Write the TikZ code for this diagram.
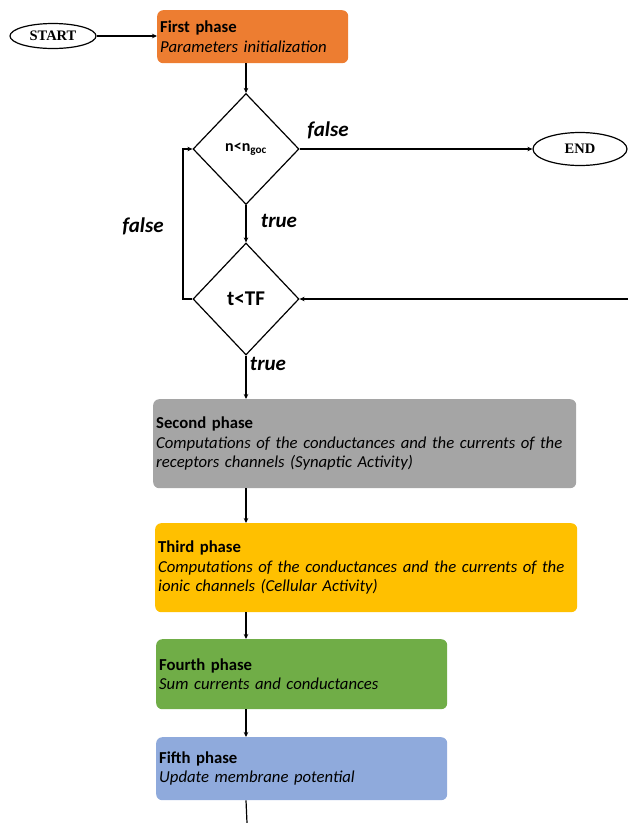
\documentclass[tikz,border=0pt]{standalone}
\usepackage{fontspec}
\setmainfont{Carlito}
\newfontfamily\serifbold{Liberation Serif}
\usetikzlibrary{shapes.geometric,arrows.meta}

\definecolor{phaseorange}{HTML}{ED7D31}
\definecolor{phasegray}{HTML}{A5A5A5}
\definecolor{phasegold}{HTML}{FFC000}
\definecolor{phasegreen}{HTML}{70AD47}
\definecolor{phaseblue}{HTML}{8FAADC}

\tikzset{
  arr/.style={line width=1.2pt,-{Stealth[length=5pt,width=4.5pt]}},
  plain/.style={line width=1.2pt},
  terminal/.style={ellipse,draw,line width=1.2pt,inner sep=0pt,font=\serifbold\bfseries\fontsize{14.5}{16}\selectfont},
  decision/.style={diamond,draw,line width=1.2pt,inner sep=0pt,font=\bfseries},
  phasebox/.style={rectangle,rounded corners=6pt,inner xsep=3pt,inner ysep=0pt,
    anchor=north west,align=left,font=\fontsize{16.7}{19.5}\selectfont},
  lbl/.style={font=\bfseries\itshape\fontsize{21}{24}\selectfont,inner sep=0pt}
}

\begin{document}
\begin{tikzpicture}[x=1pt,y=-1pt]
\useasboundingbox (0,0) rectangle (628,823);

% terminals
\node[terminal,minimum width=86,minimum height=25] (start) at (53,36) {START};
\node[terminal,minimum width=94,minimum height=33] (end) at (580,149) {END};

% first phase
\node[phasebox,fill=phaseorange,text width=185,minimum height=53] (p1) at (157,10)
  {\textbf{First phase}\\\textit{Parameters initialization}};

% decisions
\node[decision,minimum width=106,minimum height=111,font=\bfseries\fontsize{16}{18}\selectfont] (d1) at (246,149)
  {n<n\textsubscript{goc}};
\node[decision,minimum width=106,minimum height=112,font=\bfseries\fontsize{21}{24}\selectfont] (d2) at (246,299)
  {t<TF};

% remaining phases
\node[phasebox,fill=phasegray,text width=417,minimum height=89] (p2) at (153,399)
  {\textbf{Second phase}\\\textit{Computations of the conductances and the currents of the}\\\textit{receptors channels (Synaptic Activity)}};
\node[phasebox,fill=phasegold,text width=416,minimum height=89] (p3) at (155,523)
  {\textbf{Third phase}\\\textit{Computations of the conductances and the currents of the}\\\textit{ionic channels (Cellular Activity)}};
\node[phasebox,fill=phasegreen,text width=285,minimum height=70] (p4) at (156,639)
  {\textbf{Fourth phase}\\\textit{Sum currents and conductances}};
\node[phasebox,fill=phaseblue,text width=285,minimum height=63] (p5) at (156,737)
  {\textbf{Fifth phase}\\\textit{Update membrane potential}};

% free ends and bends
\coordinate (loopin) at (628,299);
\coordinate (loopleft) at (183,0);
\coordinate (bottomend) at (247,823);

% connectors
\draw[arr] (start.east) -- (p1.west |- start.east);
\draw[arr] (d1.north |- p1.south) -- (d1.north);
\draw[arr] (d1.east) -- (end.west);
\draw[arr] (d1.south) -- (d2.north);
\draw[arr] (d2.west) -- (loopleft |- d2.west) -- (loopleft |- d1.west) -- (d1.west);
\draw[arr] (loopin) -- (d2.east);
\draw[arr] (d2.south) -- (d2.south |- p2.north);
\draw[arr] (d2.south |- p2.south) -- (d2.south |- p3.north);
\draw[arr] (d2.south |- p3.south) -- (d2.south |- p4.north);
\draw[arr] (d2.south |- p4.south) -- (d2.south |- p5.north);
\draw[plain] (d2.south |- p5.south) -- (bottomend);

% branch labels
\node[lbl] (lf1) at (328,130) {false};
\node[lbl] (lt1) at (279,221) {true};
\node[lbl] (lf2) at (143,226) {false};
\node[lbl] (lt2) at (268,364) {true};
\end{tikzpicture}
\end{document}
